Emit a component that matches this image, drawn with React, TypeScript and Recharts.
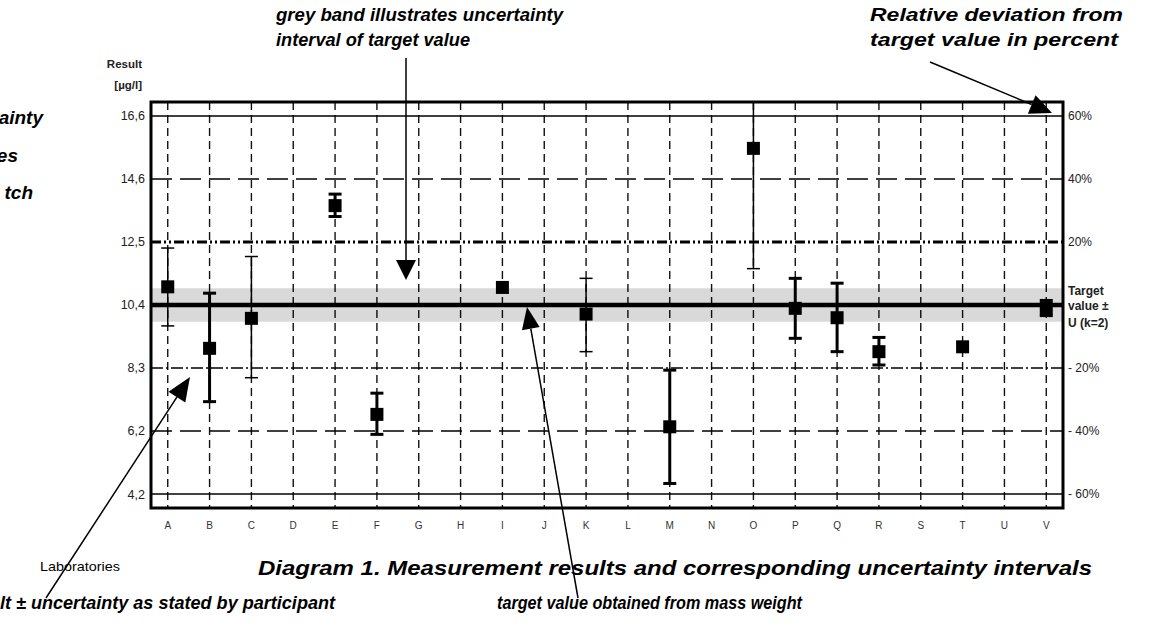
import React from 'react';
import {
  ComposedChart,
  Scatter,
  ErrorBar,
  XAxis,
  YAxis,
  CartesianGrid,
  ReferenceLine,
  ReferenceArea,
} from 'recharts';

// laboratories on the x axis
const labs = ['A', 'B', 'C', 'D', 'E', 'F', 'G', 'H', 'I', 'J', 'K', 'L', 'M', 'N', 'O', 'P', 'Q', 'R', 'S', 'T', 'U', 'V'];

// reported results
const resultLabs = ['A', 'B', 'C', 'E', 'F', 'I', 'K', 'M', 'O', 'P', 'Q', 'R', 'T', 'V'];
const resultValues = [11.0, 8.97, 9.96, 13.68, 6.79, 10.98, 10.1, 6.38, 15.57, 10.29, 9.98, 8.86, 9.02, 10.29];
const lowerBounds = [9.71, 7.21, 8.0, 13.32, 6.13, null, 8.86, 4.51, 11.6, 9.3, 8.86, 8.42, null, 10.05];
const upperBounds = [12.28, 10.79, 12.0, 14.06, 7.49, null, 11.28, 8.25, 17.1, 11.28, 11.12, 9.33, null, 10.55];
const boldBars = [false, true, false, true, true, false, false, true, false, true, true, true, false, true];

// target value and its uncertainty band
const target = 10.4;
const bandLow = 9.85;
const bandHigh = 10.95;
const yMin = 3.7;
const yMax = 17.1;

// target ± 60/40/20 %
const levelValues = [16.64, 14.56, 12.48, 10.4, 8.32, 6.24, 4.16];
const leftLabels = ['16,6', '14,6', '12,5', '10,4', '8,3', '6,2', '4,2'];
const rightLabels = ['60%', '40%', '20%', 'Target value ± U (k=2)', '- 20%', '- 40%', '- 60%'];

const levelStyles = [
  { w: 1.4, dash: undefined },
  { w: 1.5, dash: '21 8' },
  { w: 3, dash: '10 3 2 3 2 3' },
  { w: 4.5, dash: undefined },
  { w: 1.3, dash: '12 3 2 3' },
  { w: 1.5, dash: '21 8' },
  { w: 1.4, dash: undefined },
];

const toRows = (wantBars: boolean, bold: boolean) =>
  resultLabs
    .map((lab, i) => ({
      x: labs.indexOf(lab),
      y: resultValues[i],
      lo: lowerBounds[i],
      hi: upperBounds[i],
      bold: boldBars[i],
    }))
    .filter((r) => (wantBars ? r.lo != null && r.bold === bold : r.lo == null))
    .map((r) => ({ x: r.x, y: r.y, err: r.lo == null ? undefined : [r.y - (r.lo as number), (r.hi as number) - r.y] }));

const thinRows = toRows(true, false);
const boldRows = toRows(true, true);
const plainRows = toRows(false, false);

const font = "'Liberation Sans', Arial, sans-serif";

const Square = (props: any) => {
  const { cx, cy } = props;
  if (cx == null || cy == null) return null;
  return <rect x={cx - 6.5} y={cy - 6.5} width={13} height={13} fill="#000" />;
};

const RightTick = (props: any) => {
  const { x, y, payload } = props;
  const i = levelValues.indexOf(payload.value);
  if (payload.value === target) {
    return (
      <text x={x} y={y} fontSize={12} fontWeight="bold" fontFamily={font} fill="#222">
        <tspan x={x} dy={-10}>Target</tspan>
        <tspan x={x} dy={15}>value ±</tspan>
        <tspan x={x} dy={17}>U (k=2)</tspan>
      </text>
    );
  }
  return (
    <text x={x} y={y} dy={4} fontSize={12} fontFamily={font} fill="#222" textAnchor="start">
      {rightLabels[i]}
    </text>
  );
};

const Arrow = ({ from, to, head = 20, half = 9 }: { from: number[]; to: number[]; head?: number; half?: number }) => {
  const dx = to[0] - from[0];
  const dy = to[1] - from[1];
  const len = Math.hypot(dx, dy);
  const ux = dx / len;
  const uy = dy / len;
  const bx = to[0] - ux * head;
  const by = to[1] - uy * head;
  const px = -uy * half;
  const py = ux * half;
  return (
    <g>
      <line x1={from[0]} y1={from[1]} x2={bx} y2={by} stroke="#000" strokeWidth={1.5} />
      <polygon points={`${to[0]},${to[1]} ${bx + px},${by + py} ${bx - px},${by - py}`} fill="#000" />
    </g>
  );
};

const note = { fontFamily: font, fontWeight: 'bold' as const, fontStyle: 'italic' as const, fontSize: 19, fill: '#000' };

export default function App() {
  return (
    <div style={{ position: 'absolute', left: 0, top: 0, width: 1153, height: 629, background: '#fff', overflow: 'hidden' }}>
      <ComposedChart width={1153} height={629} margin={{ top: 102, right: 0, bottom: 91, left: 0 }}>
        <CartesianGrid vertical horizontal={false} stroke="#111" strokeWidth={1.4} strokeDasharray="8 5" />
        <XAxis
          dataKey="x"
          type="number"
          domain={[-0.4, 21.4]}
          ticks={labs.map((_, i) => i)}
          tickFormatter={(v: number) => labs[v]}
          allowDataOverflow
          axisLine={false}
          tickLine={false}
          tickSize={0}
          tickMargin={14}
          height={30}
          tick={{ fontSize: 10, fontFamily: font, fill: '#333' }}
        />
        <YAxis
          yAxisId="left"
          type="number"
          domain={[yMin, yMax]}
          ticks={levelValues}
          tickFormatter={(v: number) => leftLabels[levelValues.indexOf(v)]}
          allowDataOverflow
          axisLine={false}
          tickLine={false}
          tickSize={0}
          tickMargin={6}
          width={151}
          tick={{ fontSize: 12.5, fontFamily: font, fill: '#222' }}
        />
        <YAxis
          yAxisId="right"
          orientation="right"
          type="number"
          domain={[yMin, yMax]}
          ticks={levelValues}
          allowDataOverflow
          axisLine={false}
          tickLine={false}
          tickSize={0}
          tickMargin={5}
          width={90}
          tick={<RightTick />}
        />
        <ReferenceArea yAxisId="left" y1={bandLow} y2={bandHigh} fill="#000" fillOpacity={0.15} stroke="none" />
        {levelValues.map((v, i) => (
          <ReferenceLine
            key={v}
            yAxisId="left"
            y={v}
            stroke="#000"
            strokeWidth={levelStyles[i].w}
            strokeDasharray={levelStyles[i].dash}
          />
        ))}
        <ReferenceArea
          yAxisId="left"
          x1={-0.4}
          x2={21.4}
          y1={yMin}
          y2={yMax}
          fill="none"
          stroke="#000"
          strokeWidth={3}
        />
        <Scatter yAxisId="left" data={thinRows} dataKey="y" shape={<Square />} isAnimationActive={false}>
          <ErrorBar dataKey="err" direction="y" width={6.5} strokeWidth={1.5} stroke="#000" isAnimationActive={false} />
        </Scatter>
        <Scatter yAxisId="left" data={boldRows} dataKey="y" shape={<Square />} isAnimationActive={false}>
          <ErrorBar dataKey="err" direction="y" width={6.5} strokeWidth={3} stroke="#000" isAnimationActive={false} />
        </Scatter>
        <Scatter yAxisId="left" data={plainRows} dataKey="y" shape={<Square />} isAnimationActive={false} />
      </ComposedChart>

      <svg width={1153} height={629} style={{ position: 'absolute', left: 0, top: 0, pointerEvents: 'none' }}>
        <text {...note} x={276} y={21} textLength={287} lengthAdjust="spacingAndGlyphs">grey band illustrates uncertainty</text>
        <text {...note} x={276} y={46} textLength={194} lengthAdjust="spacingAndGlyphs">interval of target value</text>
        <text {...note} x={870} y={21} textLength={253} lengthAdjust="spacingAndGlyphs">Relative deviation from</text>
        <text {...note} x={870} y={46} textLength={248} lengthAdjust="spacingAndGlyphs">target value in percent</text>

        <text {...note} x={43} y={124} textAnchor="end">ainty</text>
        <text {...note} x={18} y={162} textAnchor="end">es</text>
        <text {...note} x={33} y={199} textAnchor="end">tch</text>

        <text x={142} y={68} fontFamily={font} fontSize={11.5} fontWeight="bold" fill="#222" textAnchor="end">Result</text>
        <text x={142} y={89} fontFamily={font} fontSize={11.5} fontWeight="bold" fill="#222" textAnchor="end">[µg/l]</text>

        <text x={40} y={571} fontFamily={font} fontSize={13.5} fill="#000" textLength={80} lengthAdjust="spacingAndGlyphs">Laboratories</text>
        <text {...note} fontSize={21} x={258} y={575} textLength={834} lengthAdjust="spacingAndGlyphs">
          Diagram 1. Measurement results and corresponding uncertainty intervals
        </text>
        <text {...note} x={0} y={609} textLength={335} lengthAdjust="spacingAndGlyphs">lt ± uncertainty as stated by participant</text>
        <text {...note} x={497} y={609} textLength={305} lengthAdjust="spacingAndGlyphs">target value obtained from mass weight</text>

        <Arrow from={[406, 58]} to={[406, 280]} head={20} half={10} />
        <Arrow from={[930, 62]} to={[1052, 113]} head={22} half={10} />
        <Arrow from={[578, 598]} to={[527, 307]} head={22} half={9} />
        <Arrow from={[46, 598]} to={[190, 377]} head={24} half={10} />
      </svg>
    </div>
  );
}
